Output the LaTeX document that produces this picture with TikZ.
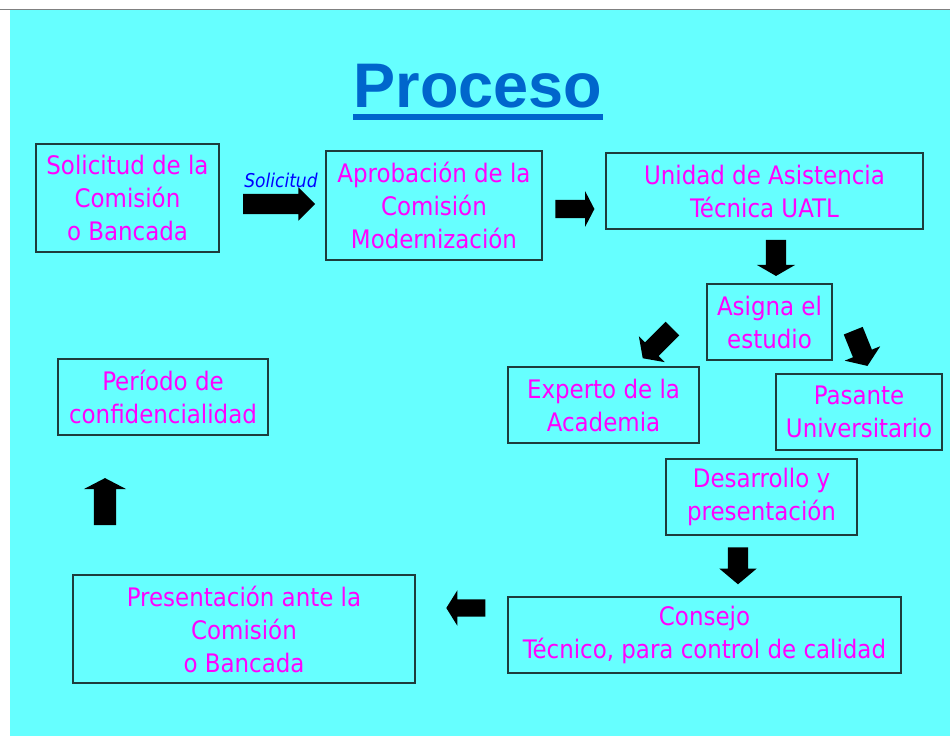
\documentclass[tikz,border=0pt]{standalone}
\usepackage{fontspec}
\setmainfont{DejaVu Sans Condensed}
\newfontfamily\titlefont{Liberation Sans}
\usetikzlibrary{shapes.arrows}

\definecolor{sky}{HTML}{66FFFF}
\definecolor{pink}{HTML}{FF00FF}
\definecolor{ttl}{HTML}{0066CC}
\definecolor{edge}{HTML}{1E3C3C}

\begin{document}
\begin{tikzpicture}[x=1pt, y=-1pt]
  \tikzstyle{box} = [draw=edge, line width=1.2pt, rectangle, align=center, text=pink, inner sep=0pt, font=\fontsize{25.5}{33}\selectfont]
  \tikzstyle{barrow} = [single arrow, fill=black, draw=none, inner xsep=0pt, minimum width=0pt]
  \useasboundingbox (0,0) rectangle (950,736);
  \fill[white] (0,0) rectangle (950,736);
  \fill[sky] (10,10) rectangle (950,736);
  \draw[gray, line width=1pt] (0,9.5) -- (950,9.5);

  % title
  \node[font=\titlefont\bfseries\fontsize{63}{70}\selectfont, text=ttl, anchor=base, inner sep=0pt] (title) at (478,107) {Proceso};
  \fill[ttl] (353,114) rectangle (603,120);

  % steps
  \node[box, minimum width=183, minimum height=108] (sol) at (127.5,198) {Solicitud de la\\Comisión\\o Bancada};
  \node[box, minimum width=216, minimum height=109] (apr) at (434,205.5) {Aprobación de la\\Comisión\\Modernización};
  \node[box, minimum width=317, minimum height=76] (uatl) at (764.5,191) {Unidad de Asistencia\\Técnica UATL};
  \node[box, minimum width=125, minimum height=76] (asig) at (769.5,322) {Asigna el\\estudio};
  \node[box, minimum width=191, minimum height=76] (expe) at (603.5,405) {Experto de la\\Academia};
  \node[box, minimum width=166, minimum height=76] (pasa) at (859,412) {Pasante\\Universitario};
  \node[box, minimum width=191, minimum height=76] (desa) at (761.5,497) {Desarrollo y\\presentación};
  \node[box, minimum width=393, minimum height=76] (cons) at (704.5,635) {Consejo\\Técnico, para control de calidad};
  \node[box, minimum width=342, minimum height=108] (pres) at (244,629) {Presentación ante la\\Comisión\\o Bancada};
  \node[box, minimum width=210, minimum height=76] (peri) at (163,397) {Período de\\confidencialidad};

  % block arrows
  \foreach \n/\x/\y/\r/\l/\s/\e/\t in {1/274/204/0/72/10/6.5/90,
      2/572.5/209/0/39/9/8.5/125, 3/776/255/-90/36/10/9/120,
      4/660/341/-135/42/9.5/8.5/110, 5/859/345/-68/38/10/9/110,
      6/738/561.5/-90/37/10/8.5/100, 7/468.5/608/180/39/8.5/9/116,
      8/105/504.5/90/47/11/10/125} {
    \node[barrow, rotate=\r, minimum height=\l, inner ysep=\s, single arrow head extend=\e, single arrow tip angle=\t] (arr\n) at (\x,\y) {};
  }
  \node[font=\itshape\fontsize{19}{22}\selectfont, text=blue, inner sep=0pt] (lab) at (281,180) {Solicitud};
\end{tikzpicture}
\end{document}
